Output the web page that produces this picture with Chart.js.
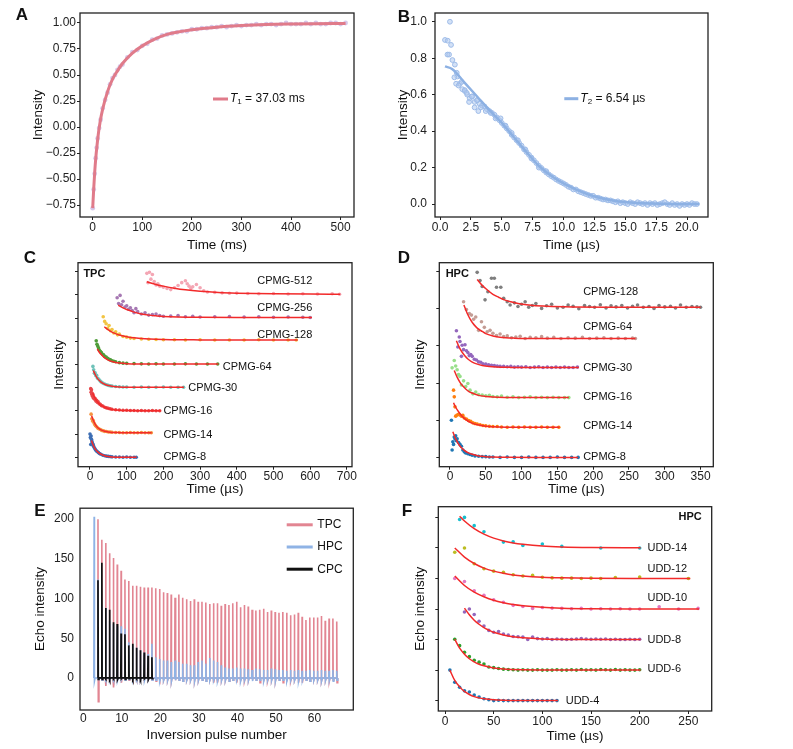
<!DOCTYPE html>
<html>
<head>
<meta charset="utf-8">
<script src="https://cdn.jsdelivr.net/npm/chart.js@4.4.1/dist/chart.umd.min.js"></script>
<style>
  body { margin: 0; background: #fff; }
  #fig { position: relative; width: 793px; height: 749px; overflow: hidden; font-family: "Liberation Sans", Arial, sans-serif; }
  #fig canvas { position: absolute; }
  .tag { position: absolute; font-weight: bold; font-size: 17px; color: #111; transform: translate(-50%, -50%); }
</style>
</head>
<body>
<div id="fig">
  <canvas id="chartA"></canvas>
  <canvas id="chartB"></canvas>
  <canvas id="chartC"></canvas>
  <canvas id="chartD"></canvas>
  <canvas id="chartE"></canvas>
  <canvas id="chartF"></canvas>
  <div class="tag" style="left:22px;top:15px">A</div>
  <div class="tag" style="left:404px;top:17px">B</div>
  <div class="tag" style="left:30px;top:258px">C</div>
  <div class="tag" style="left:404px;top:258px">D</div>
  <div class="tag" style="left:40px;top:511px">E</div>
  <div class="tag" style="left:407px;top:511px">F</div>
</div>
<script>
// ---- A: T1 inversion recovery ----
const aTime = [0,2,4,6,8,10,13,16,20,25,30,35,40,45,50,55,60,70,80,90,
  100,110,120,130,140,150,160,170,180,190,200,210,220,230,240,250,260,270,280,290,
  300,310,320,330,340,350,360,370,380,390,400,410,420,430,440,450,460,470,480,490,500,510];
const aSignal = [-0.78,-0.6,-0.45,-0.3,-0.2,-0.11,-0.01,0.07,0.18,0.26,0.33,0.41,0.47,0.5,0.55,0.58,0.6,0.67,0.72,0.74,
  0.78,0.80,0.84,0.85,0.88,0.89,0.90,0.91,0.92,0.92,0.94,0.94,0.95,0.95,0.96,0.96,0.97,0.96,0.97,0.98,
  0.97,0.98,0.98,0.99,0.98,0.99,0.99,0.98,0.99,1.0,0.99,0.99,0.99,1.0,0.99,1.0,0.99,0.99,1.0,1.0,0.99,1.0];
const aFitTime = [0,2,5,10,15,20,30,40,50,60,80,100,125,150,200,250,300,350,400,450,510];
const aFit = [-0.78,-0.6,-0.37,-0.12,0.05,0.17,0.34,0.46,0.54,0.61,0.71,0.78,0.845,0.89,0.935,0.96,0.975,0.985,0.99,0.993,0.995];
const aXTicks = [0,100,200,300,400,500];
const aYTicks = [-0.75,-0.5,-0.25,0,0.25,0.5,0.75,1.0];

// ---- B: T2 decay (sampled every 0.2 us from 0.4 us) ----
const bStart = 0.4, bStep = 0.2;
const bSignal = [0.90,0.82,1.00,0.79,0.765,0.70,0.66,0.63,0.62,0.60,
  0.58,0.59,0.56,0.57,0.55,0.54,0.535,0.52,0.51,0.50,
  0.49,0.475,0.46,0.445,0.43,0.415,0.40,0.38,0.365,0.35,
  0.335,0.32,0.30,0.285,0.27,0.255,0.24,0.225,0.21,0.198,
  0.185,0.173,0.163,0.153,0.145,0.135,0.127,0.12,0.113,0.105,
  0.095,0.09,0.08,0.08,0.07,0.065,0.06,0.055,0.05,0.045,
  0.045,0.035,0.035,0.03,0.025,0.025,0.02,0.02,0.015,0.01,
  0.015,0.005,0.01,0.005,0.0,0.01,0.005,0.0,0.01,0.005,
  0.0,0.005,-0.005,0.005,0.0,0.005,-0.005,0.0,0.005,0.01,
  0.0,-0.005,0.005,-0.005,0.0,-0.01,0.0,-0.005,0.0,-0.005,
  0.005,0.0,0.0];
const bExtraTime = [0.62,0.73,0.89,1.16,1.35,1.3,1.5,1.75,2.0,2.16,2.35,2.57,2.8,3.0,3.1,3.3,3.7,4.1,4.5,4.9,5.3,5.8,6.3,6.9,7.4,8.0,8.6];
const bExtra = [0.896,0.82,0.873,0.695,0.72,0.66,0.65,0.67,0.625,0.61,0.56,0.59,0.53,0.57,0.51,0.53,0.51,0.5,0.47,0.47,0.43,0.39,0.35,0.3,0.25,0.2,0.18];
const bFitTime = [0.4,1,2,3,4,5,6,7,8,9,10,11,12,13,14,15,16,18,21];
const bFit = [0.755,0.74,0.665,0.59,0.515,0.445,0.365,0.285,0.21,0.155,0.113,0.08,0.053,0.033,0.02,0.011,0.006,0.002,0];
const bXTicks = [0,2.5,5,7.5,10,12.5,15,17.5,20];
const bYTicks = [0,0.2,0.4,0.6,0.8,1.0];

// ---- C: TPC CPMG decays (values above each trace's baseline) ----
const cNames = ['CPMG-8','CPMG-14','CPMG-16','CPMG-30','CPMG-64','CPMG-128','CPMG-256','CPMG-512'];
const cColors = ['#3d6eb4','#f5923e','#e8464a','#6fc2b9','#4f9d3a','#f2c443','#a678b3','#f4a6b4'];
const cOffsets = [0,1.06,2.01,3.02,4.02,5.06,6.03,7.03];
const cPointX = [
  [0,1,2,3,4,5,6,7,8,9,10,12,14,16,18,20,23,26,30,35,40,45,50,55,60,70,80,90,100,110,120,126],
  [3,5,7,9,11,13,15,18,21,24,28,32,36,40,45,50,55,60,70,80,90,100,110,120,130,140,150,160,167],
  [2,3,4,5,6,7,8,9,10,12,14,16,18,20,22,25,28,31,35,40,45,50,55,60,70,80,90,100,110,120,130,140,150,160,170,180,190],
  [8,10,12,14,16,18,20,22,25,28,31,35,40,45,50,55,60,70,80,90,100,120,140,160,180,200,220,240,255],
  [17,19,21,23,25,28,31,34,37,40,44,48,52,56,60,65,70,80,90,100,120,140,160,180,200,230,260,290,320,348],
  [36,40,44,48,52,56,60,65,70,75,80,90,100,110,120,140,160,180,200,230,260,300,340,380,420,460,500,540,562],
  [74,78,82,86,90,95,100,105,110,115,120,125,130,140,150,160,170,180,190,200,220,240,260,280,300,340,380,420,460,500,540,580,600],
  [155,158,162,166,170,175,180,185,190,200,210,220,230,240,250,260,265,270,275,280,290,300,310,320,340,360,380,400,430,460,500,540,580,620,660,680]
];
const cPointY = [
  [1.0,0.85,0.55,0.92,0.78,0.7,0.64,0.58,0.56,0.5,0.47,0.4,0.36,0.3,0.27,0.24,0.2,0.16,0.13,0.09,0.07,0.05,0.04,0.03,0.02,0.01,0.01,0.0,0.01,0.0,0.0,0.0],
  [0.8,0.6,0.5,0.52,0.42,0.35,0.3,0.26,0.2,0.17,0.14,0.1,0.08,0.06,0.05,0.03,0.03,0.02,0.01,0.01,0.0,0.0,0.01,0.0,0.0,0.01,0.0,0.0,0.0],
  [0.95,0.8,0.9,0.7,0.75,0.62,0.7,0.55,0.6,0.5,0.52,0.42,0.45,0.36,0.38,0.3,0.27,0.22,0.2,0.15,0.12,0.1,0.08,0.06,0.04,0.03,0.02,0.02,0.01,0.01,0.0,0.01,0.0,0.0,0.01,0.0,0.0],
  [0.9,0.75,0.6,0.62,0.5,0.52,0.4,0.38,0.32,0.27,0.22,0.18,0.14,0.11,0.08,0.06,0.05,0.03,0.02,0.01,0.01,0.0,0.01,0.0,0.0,0.01,0.0,0.0,0.0],
  [1.0,0.85,0.78,0.7,0.62,0.55,0.5,0.42,0.4,0.33,0.3,0.25,0.2,0.18,0.14,0.12,0.1,0.06,0.04,0.03,0.02,0.01,0.0,0.01,0.0,0.0,0.01,0.0,0.0,0.0],
  [1.0,0.8,0.7,0.5,0.62,0.4,0.45,0.3,0.35,0.22,0.25,0.15,0.12,0.08,0.06,0.04,0.03,0.02,0.01,0.01,0.0,0.01,0.0,0.0,0.0,0.01,0.0,0.0,0.0],
  [0.85,0.6,0.95,0.55,0.7,0.45,0.5,0.35,0.42,0.3,0.2,0.38,0.25,0.15,0.2,0.1,0.12,0.15,0.08,0.05,0.06,0.08,0.03,0.05,0.02,0.03,0.04,0.02,0.03,0.01,0.02,0.01,0.0],
  [0.9,0.5,0.95,0.65,0.85,0.55,0.4,0.45,0.35,0.3,0.25,0.2,0.28,0.38,0.5,0.58,0.45,0.35,0.25,0.32,0.42,0.28,0.15,0.1,0.08,0.06,0.04,0.05,0.03,0.02,0.03,0.01,0.02,0.01,0.02,0.0]
];
const cFitX = [
  [4,8,12,16,20,25,30,40,50,60,80,100,127],
  [4.5,8,12,16,20,25,30,40,50,60,80,110,168],
  [7,12,16,20,25,30,40,50,60,80,100,140,193],
  [9,14,18,22,27,32,40,50,60,80,100,150,256],
  [20,25,30,35,40,50,60,70,80,100,130,200,350],
  [39,50,60,70,80,100,120,150,180,220,300,400,566],
  [77,90,100,120,140,160,180,200,240,300,400,605],
  [155,180,200,230,260,300,350,400,450,500,600,682]
];
const cFitY = [
  [0.72,0.55,0.42,0.32,0.25,0.18,0.13,0.066,0.033,0.017,0.005,0.001,0],
  [0.73,0.57,0.43,0.32,0.24,0.17,0.12,0.06,0.03,0.014,0.004,0.001,0],
  [0.75,0.59,0.48,0.39,0.31,0.24,0.15,0.09,0.055,0.02,0.008,0.001,0],
  [0.72,0.55,0.44,0.35,0.27,0.2,0.13,0.075,0.045,0.015,0.005,0.001,0],
  [0.65,0.52,0.42,0.34,0.27,0.17,0.11,0.07,0.045,0.018,0.005,0.001,0],
  [0.57,0.43,0.34,0.27,0.21,0.14,0.09,0.05,0.027,0.01,0.002,0,0],
  [0.53,0.41,0.34,0.23,0.15,0.1,0.07,0.045,0.02,0.006,0.001,0],
  [0.54,0.42,0.35,0.26,0.19,0.127,0.077,0.047,0.028,0.017,0.006,0.002]
];
const cLabelX = [200,200,200,268,362,456,456,456];
const cLabelY = [0,0.96,1.98,3.0,3.91,5.27,6.42,7.61];
const cXTicks = [0,100,200,300,400,500,600,700];
const cYTicks = [0,1,2,3,4,5,6,7,8];

// ---- D: HPC CPMG decays ----
const dNames = ['CPMG-8','CPMG-14','CPMG-16','CPMG-30','CPMG-64','CPMG-128'];
const dColors = ['#1f77b4','#ff7f0e','#98df8a','#9467bd','#c49c94','#7f7f7f'];
const dOffsets = [0,0.81,1.61,2.42,3.2,4.04];
const dPointX = [
  [2,3,4,5,6,7,8,9,10,12,14,16,18,20,22,25,28,31,35,40,45,50,55,60,70,80,90,100,110,120,130,140,150,160,170,179],
  [5,6,7,8,10,12,14,16,18,20,23,26,29,32,35,38,42,46,50,55,60,66,72,80,88,96,104,112,120,128,136,144,152],
  [3,6,8,10,12,14,16,19,22,25,28,32,36,40,45,50,55,60,66,72,80,88,96,104,112,120,128,136,144,152,160,166],
  [9,11,13,14,16,17,19,21,23,25,27,29,31,34,37,40,43,46,50,54,58,62,66,70,75,80,85,90,95,100,106,112,118,124,130,136,142,148,154,160,166,172,178],
  [19,23,27,30,33,36,40,44,48,52,56,60,65,70,75,80,86,92,98,105,112,120,128,136,145,155,165,175,185,195,205,215,225,235,245,255,259],
  [38,42,45,49,53,58,62,65,71,75,80,84,90,95,100,105,110,115,120,128,135,142,150,158,165,172,180,188,195,202,210,218,225,232,240,248,255,262,270,278,285,292,300,308,315,322,330,338,345,350]
];
const dPointY = [
  [1.0,0.2,0.42,0.35,0.55,0.5,0.58,0.45,0.5,0.4,0.35,0.3,0.2,0.15,0.12,0.1,0.08,0.06,0.04,0.03,0.02,0.02,0.01,0.01,0.0,0.01,0.0,0.0,0.01,0.0,0.0,0.0,0.01,0.0,0.0,0.0],
  [1.0,0.82,0.55,0.3,0.33,0.35,0.33,0.3,0.32,0.25,0.22,0.18,0.16,0.12,0.1,0.09,0.07,0.05,0.04,0.03,0.02,0.02,0.01,0.0,0.01,0.0,0.01,0.0,0.0,0.01,0.0,0.0,0.0],
  [0.8,1.0,0.85,0.75,0.62,0.57,0.34,0.45,0.3,0.38,0.2,0.1,0.15,0.08,0.07,0.05,0.06,0.03,0.02,0.04,0.01,0.02,0.0,0.01,0.02,0.0,0.01,0.0,0.01,0.0,0.0,0.0],
  [0.99,0.55,0.82,0.7,0.3,0.6,0.48,0.61,0.45,0.4,0.32,0.35,0.3,0.22,0.2,0.15,0.14,0.1,0.09,0.07,0.06,0.05,0.04,0.03,0.03,0.02,0.03,0.01,0.02,0.01,0.02,0.0,0.01,0.02,0.0,0.01,0.0,0.01,0.0,0.01,0.0,0.0,0.01],
  [0.99,0.78,0.67,0.63,0.52,0.58,0.22,0.45,0.3,0.18,0.22,0.14,0.08,0.12,0.05,0.07,0.02,0.04,0.06,0.0,0.03,0.02,0.05,0.01,0.03,0.0,0.02,0.01,0.03,0.0,0.01,0.02,0.0,0.01,0.0,0.01,0.0],
  [0.94,0.72,0.56,0.2,0.42,0.78,0.78,0.54,0.54,0.24,0.15,0.06,0.12,0.02,0.08,0.15,0.0,0.05,0.1,-0.03,0.04,0.08,-0.02,0.0,0.06,0.03,-0.04,0.05,0.02,0.0,0.07,-0.02,0.04,0.01,0.05,-0.02,0.03,0.06,0.0,0.02,-0.03,0.05,0.01,0.03,-0.02,0.06,0.0,0.02,0.01,0.0]
];
const dFitX = [
  [4,8,12,16,20,25,30,40,50,60,80,120,179],
  [5,8,12,16,20,25,30,40,50,60,80,110,153],
  [6,10,14,18,22,26,30,40,50,60,80,110,166],
  [9,13,17,21,25,30,35,45,55,65,85,120,180],
  [19.5,24,28,32,36,40,45,50,60,70,90,130,259],
  [38,45,52,60,68,76,85,95,110,130,160,220,350]
];
const dFitY = [
  [0.69,0.5,0.36,0.26,0.19,0.13,0.09,0.04,0.02,0.01,0.002,0,0],
  [0.66,0.54,0.42,0.32,0.24,0.17,0.12,0.06,0.03,0.015,0.004,0,0],
  [0.73,0.55,0.41,0.31,0.23,0.17,0.13,0.06,0.03,0.013,0.003,0,0],
  [0.72,0.54,0.41,0.31,0.23,0.16,0.11,0.055,0.026,0.012,0.003,0,0],
  [0.9,0.68,0.53,0.41,0.32,0.25,0.19,0.13,0.07,0.035,0.01,0,0],
  [0.75,0.59,0.47,0.35,0.27,0.2,0.15,0.105,0.064,0.032,0.012,0.002,0]
];
const dLabelX = [186,186,186,186,186,186];
const dLabelY = [0,0.85,1.62,2.42,3.52,4.44];
const dXTicks = [0,50,100,150,200,250,300,350];
const dYTicks = [0,1,2,3,4,5];

// ---- E: echo trains vs inversion pulse number ----
const tpcFirst = 4, tpcLast = 66;
const tpcPeak = [200,174,170,157,151,143,135,124,122,116, 116,115,114,114,114,113,112,108,107,105,
  101,105,101,99,97,99,96,96,95,93, 94,94,91,93,92,94,96,89,92,90,
  86,85,86,87,83,85,83,82,83,82, 79,80,82,77,73,76,76,76,78,72, 75,75,71];
const tpcDip = [-30,-3,-10,-2,-12,-2,-6,-2,-3,-2, -2,-3,-2,-2,-3,-4,-2,-3,-3,-4,
  -3,-3,-4,-3,-3,-4,-3,-3,-4,-3, -6,-6,-3,-3,-4,-3,-6,-3,-4,-3,
  -3,-3,-6,-3,-4,-3,-4,-3,-6,-3, -4,-3,-6,-6,-3,-4,-3,-3,-4,-3, -4,-3,-6];
const hpcFirst = 3, hpcLast = 66;
const hpcPeak = [203,124,90,88,72,68,65,65,62,45, 41,38,35,32,30,43,26,24,22,22,
  20,22,20,18,18,16,16,20,22,18, 25,22,20,16,13,12,12,13,12,12,
  11,10,12,11,10,10,12,11,10,10, 9,10,9,10,9,9,10,9,9,10, 9,9,10,9];
const hpcDip = [-4,-2,-3,-2,-3,-2,-3,-2,-3,-2, -3,-2,-3,-3,-2,-3,-3,-4,-3,-3,
  -4,-3,-3,-4,-3,-3,-4,-3,-3,-4, -3,-3,-4,-3,-3,-4,-3,-3,-4,-3,
  -3,-4,-3,-3,-4,-3,-3,-4,-3,-3, -4,-3,-3,-4,-3,-3,-4,-3,-3,-4, -3,-3,-4,-3];
const cpcFirst = 4, cpcLast = 18;
const cpcPeak = [123,145,88,86,70,68,56,55,41,43,38,35,32,28,26];
const cpcDip = [-2,-2,-1,-2,-1,-2,-1,-2,-1,-2,-1,-2,-1,-2,-1];
const eNames = ['TPC','HPC','CPC'];
const eColors = ['#e28592','#8fb3e5','#111111'];
const eXTicks = [0,10,20,30,40,50,60];
const eYTicks = [0,50,100,150,200];

// ---- F: HPC UDD decays ----
const fNames = ['UDD-4','UDD-6','UDD-8','UDD-10','UDD-12','UDD-14'];
const fColors = ['#1f77b4','#2ca02c','#9467bd','#e377c2','#bcbd22','#17becf'];
const fOffsets = [0,1,2,3,4,5];
const fPointX = [
  [5,10,15,20,25,30,35,40,45,50,55,60,65,70,75,80,85,90,95,100,105,110,115],
  [10,15,20,25,30,35,40,45,50,55,60,65,70,75,80,85,90,95,100,105,110,115,120,125,130,135,140,145,150,155,160,165,170,175,180,185,190,195,200],
  [20,25,30,35,40,45,50,55,60,65,70,75,80,85,90,95,100,105,110,115,120,125,130,135,140,145,150,155,160,165,170,175,180,185,190,195,200],
  [10,20,30,40,50,60,70,80,90,100,110,120,130,140,150,160,170,180,190,200,220,240,260],
  [10,20,30,40,50,60,70,80,90,100,110,120,130,140,150,160,175,200,250],
  [15,20,30,40,60,70,80,100,120,160,200]
];
const fPointY = [
  [1.0,0.6,0.44,0.32,0.28,0.18,0.12,0.06,0.03,0.0,0.01,0.0,0.0,0.0,0.0,0.0,0.0,0.0,0.0,0.0,0.0,0.0,0.0],
  [1.01,0.8,0.58,0.44,0.32,0.26,0.2,0.1,0.08,0.05,0.03,0.02,0.01,0.0,0.01,0.0,0.0,0.01,0.0,0.0,0.0,0.01,0.0,0.0,0.01,0.0,0.02,0.0,0.01,0.0,0.02,0.01,0.0,0.02,0.0,0.01,0.0,0.0,0.01],
  [0.9,1.0,0.82,0.6,0.44,0.3,0.24,0.26,0.18,0.15,0.1,0.09,0.08,0.0,0.08,0.03,0.02,0.03,0.0,0.02,0.01,0.0,0.01,0.02,0.03,0.02,0.01,0.02,0.01,0.02,0.0,0.01,0.0,0.0,0.01,0.0,0.01],
  [1.0,0.9,0.6,0.45,0.3,0.22,0.12,0.08,0.02,0.05,0.03,0.02,0.01,0.02,0.0,0.01,0.0,0.01,0.0,0.0,0.07,0.0,0.02],
  [0.86,1.0,0.48,0.32,0.24,0.2,0.12,0.08,0.1,0.04,0.02,0.01,0.01,0.0,0.01,0.0,0.03,0.05,0.0],
  [0.93,1.0,0.73,0.53,0.19,0.2,0.08,0.13,0.05,0.0,0.0]
];
const fFitX = [
  [5,10,15,20,25,30,35,40,50,60,80,116],
  [10,15,20,25,30,35,40,50,60,80,120,201],
  [20,25,30,35,40,45,50,60,70,80,100,140,201],
  [10,20,30,40,50,60,70,80,100,120,150,200,261],
  [10,20,30,40,50,60,70,80,100,120,150,200,252],
  [15,20,30,40,50,60,70,80,100,120,150,201]
];
const fFitY = [
  [1.0,0.66,0.45,0.3,0.2,0.13,0.09,0.06,0.025,0.01,0.002,0],
  [1.01,0.72,0.52,0.37,0.27,0.19,0.14,0.07,0.035,0.01,0.001,0],
  [1.03,0.81,0.63,0.5,0.39,0.31,0.24,0.15,0.09,0.055,0.02,0.003,0],
  [1.08,0.77,0.55,0.4,0.285,0.205,0.145,0.105,0.054,0.028,0.01,0.002,0],
  [1.0,0.7,0.49,0.34,0.24,0.17,0.117,0.082,0.04,0.02,0.007,0.001,0],
  [1.04,0.88,0.63,0.45,0.32,0.23,0.165,0.12,0.06,0.03,0.01,0.002]
];
const fLabelX = [124,208,208,208,208,208];
const fLabelY = [0,1.02,2.0,3.35,4.32,5.0];
const fXTicks = [0,50,100,150,200,250];
const fYTicks = [0,1,2,3,4,5,6];

const fitRed = '#f22a2a';
const FONT = '"Liberation Sans", Arial, sans-serif';

Chart.defaults.font.family = FONT;
Chart.defaults.color = '#111';

// helpers
const pts = (xs, ys, off = 0) => xs.map((x, i) => ({ x, y: ys[i] + off }));
const range = (a, b) => Array.from({ length: b - a + 1 }, (_, i) => a + i);

// each echo: rise to the peak, fall to the dip, back to zero
function spikes(pulses, peaks, dips) {
  const out = [];
  pulses.forEach((n, i) => {
    const c = n - 0.2;
    out.push({ x: c - 0.08, y: 0 }, { x: c, y: peaks[i] }, { x: c + 0.08, y: dips[i] }, { x: c + 0.25, y: 0 });
  });
  return out;
}

const framePlugin = {
  id: 'frame',
  afterDraw(chart) {
    const { ctx, chartArea: a } = chart;
    ctx.save();
    ctx.strokeStyle = '#222';
    ctx.lineWidth = 1.3;
    ctx.strokeRect(a.left, a.top, a.right - a.left, a.bottom - a.top);
    ctx.restore();
  }
};

function notes(items) {
  return {
    id: 'notes',
    afterDatasetsDraw(chart) {
      const { ctx, scales: { x, y } } = chart;
      ctx.save();
      ctx.fillStyle = '#111';
      ctx.textBaseline = 'middle';
      items.forEach(it => {
        ctx.font = (it.bold ? 'bold ' : '') + '11px ' + FONT;
        ctx.textAlign = it.align || 'left';
        ctx.fillText(it.text, x.getPixelForValue(it.x), y.getPixelForValue(it.y));
      });
      ctx.restore();
    }
  };
}

function lineKey(k) {
  return {
    id: 'lineKey',
    afterDatasetsDraw(chart) {
      const { ctx, chartArea: a } = chart;
      ctx.save();
      ctx.textBaseline = 'middle';
      ctx.fillStyle = '#111';
      k.items.forEach((it, i) => {
        const x0 = a.left + k.dx, y0 = a.top + k.dy + i * (k.gap || 0);
        ctx.strokeStyle = it.color;
        ctx.lineWidth = 3;
        ctx.beginPath();
        ctx.moveTo(x0, y0);
        ctx.lineTo(x0 + k.len, y0);
        ctx.stroke();
        let tx = x0 + k.len + k.pad;
        it.parts.forEach(p => {
          ctx.font = (p.italic ? 'italic ' : '') + (p.sub ? 8 : 12) + 'px ' + FONT;
          ctx.fillText(p.t, tx, y0 + (p.sub ? 3 : 0));
          tx += ctx.measureText(p.t).width;
        });
      });
      ctx.restore();
    }
  };
}

function axis(min, max, vals, fmt, title, o = {}) {
  return {
    type: 'linear', min, max,
    afterBuildTicks: s => { s.ticks = vals.map(v => ({ value: v })); },
    ticks: { callback: v => (fmt ? fmt(v) : ''), color: '#222', font: { size: 12 }, padding: o.pad ?? 0 },
    grid: { drawOnChartArea: false, drawTicks: o.ticks !== false, tickLength: 3, color: '#222' },
    border: { display: false },
    title: { display: true, text: title, color: '#111', font: { size: 13.5 }, padding: 0 }
  };
}

function makeChart(id, g, xs, ys, datasets, extra) {
  const half = 8.1;
  const padL = g.yt - half;
  xs.afterFit = s => { s.height = g.xt + half - g.b; };
  ys.afterFit = s => { s.width = g.l - padL; };
  const cv = document.getElementById(id);
  cv.width = g.w; cv.height = g.h;
  cv.style.left = g.left + 'px'; cv.style.top = g.top + 'px';
  return new Chart(cv, {
    type: 'scatter',
    data: { datasets },
    options: {
      responsive: false, animation: false, events: [],
      layout: { padding: { left: padL, top: g.t, right: g.w - g.r, bottom: g.h - (g.xt + half) } },
      scales: { x: xs, y: ys },
      plugins: { legend: { display: false }, tooltip: { enabled: false } }
    },
    plugins: [framePlugin].concat(extra || [])
  });
}

const fix = d => v => v.toFixed(d).replace('-', '\u2212');
const plain = v => String(v);

// A
makeChart('chartA', { left: 0, top: 0, w: 396, h: 256, l: 80, t: 13, r: 354, b: 217, yt: 38.3, xt: 245 },
  axis(-25.6, 527, aXTicks, plain, 'Time (ms)'),
  axis(-0.865, 1.096, aYTicks, fix(2), 'Intensity', { pad: 1 }),
  [
    { data: pts(aFitTime, aFit), showLine: true, borderColor: '#e07b8a', borderWidth: 3, pointRadius: 0, cubicInterpolationMode: 'monotone', order: 0 },
    { data: pts(aTime, aSignal), pointRadius: 2.4, pointBackgroundColor: 'rgba(200,180,225,0.75)', pointBorderWidth: 0, order: 1 }
  ],
  [lineKey({ dx: 133, dy: 86, len: 15, pad: 2, items: [{ color: '#e07b8a', parts: [{ t: 'T', italic: true }, { t: '1', sub: true }, { t: ' = 37.03 ms' }] }] })]
);

// B
const bTime = bSignal.map((_, i) => +(bStart + i * bStep).toFixed(1));
makeChart('chartB', { left: 390, top: 0, w: 403, h: 256, l: 45, t: 13, r: 318, b: 217, yt: 13.3, xt: 245 },
  axis(-0.41, 21.7, bXTicks, fix(1), 'Time (\u00b5s)'),
  axis(-0.071, 1.048, bYTicks, fix(1), 'Intensity', { pad: 5 }),
  [
    { data: pts(bFitTime, bFit), showLine: true, borderColor: '#8db1e3', borderWidth: 2.5, pointRadius: 0, cubicInterpolationMode: 'monotone', order: 0 },
    { data: pts(bTime, bSignal).concat(pts(bExtraTime, bExtra)), pointRadius: 2.4, pointBackgroundColor: 'rgba(175,200,238,0.55)', pointBorderColor: '#9dbbe8', pointBorderWidth: 1, order: 1 }
  ],
  [lineKey({ dx: 129.3, dy: 85.7, len: 14, pad: 2, items: [{ color: '#8db1e3', parts: [{ t: 'T', italic: true }, { t: '2', sub: true }, { t: ' = 6.54 \u00b5s' }] }] })]
);

// C
const cSets = [];
cNames.forEach((n, i) => {
  cSets.push({ data: pts(cPointX[i], cPointY[i], cOffsets[i]), pointRadius: 1.8, pointBackgroundColor: cColors[i], pointBorderWidth: 0, order: 1 });
  cSets.push({ data: pts(cFitX[i], cFitY[i], cOffsets[i]), showLine: true, borderColor: fitRed, borderWidth: 1.5, pointRadius: 0, cubicInterpolationMode: 'monotone', order: 0 });
});
makeChart('chartC', { left: 0, top: 250, w: 396, h: 250, l: 78, t: 12.7, r: 352, b: 216.7, yt: 59.3, xt: 239.3 },
  axis(-32.7, 714, cXTicks, plain, 'Time (\u00b5s)'),
  axis(-0.405, 8.39, cYTicks, null, 'Intensity'),
  cSets,
  [notes(cNames.map((n, i) => ({ text: n, x: cLabelX[i], y: cLabelY[i] })).concat([{ text: 'TPC', x: -18, y: 7.9, bold: true }]))]
);

// D
const dSets = [];
dNames.forEach((n, i) => {
  dSets.push({ data: pts(dPointX[i], dPointY[i], dOffsets[i]), pointRadius: 1.8, pointBackgroundColor: dColors[i], pointBorderWidth: 0, order: 1 });
  dSets.push({ data: pts(dFitX[i], dFitY[i], dOffsets[i]), showLine: true, borderColor: fitRed, borderWidth: 1.5, pointRadius: 0, cubicInterpolationMode: 'monotone', order: 0 });
});
makeChart('chartD', { left: 390, top: 250, w: 403, h: 250, l: 49.3, t: 12.7, r: 323.3, b: 216.7, yt: 30, xt: 239.3 },
  axis(-14.9, 367.8, dXTicks, plain, 'Time (\u00b5s)'),
  axis(-0.25, 5.24, dYTicks, null, 'Intensity'),
  dSets,
  [notes(dNames.map((n, i) => ({ text: n, x: dLabelX[i], y: dLabelY[i] })).concat([{ text: 'HPC', x: -6, y: 4.94, bold: true }]))]
);

// E
makeChart('chartE', { left: 0, top: 495, w: 396, h: 254, l: 80, t: 11.7, r: 353.3, b: 215, yt: 40, xt: 240 },
  axis(-0.87, 70.1, eXTicks, plain, 'Inversion pulse number', { ticks: false, pad: 1 }),
  axis(-40.4, 213.8, eYTicks, plain, 'Echo intensity', { ticks: false, pad: 6 }),
  [
    { data: spikes(range(tpcFirst, tpcLast), tpcPeak, tpcDip), showLine: true, borderColor: eColors[0], borderWidth: 1.6, pointRadius: 0, order: 2 },
    { data: spikes(range(hpcFirst, hpcLast), hpcPeak, hpcDip), showLine: true, borderColor: eColors[1], borderWidth: 1.6, pointRadius: 0, order: 1 },
    { data: spikes(range(cpcFirst, cpcLast), cpcPeak, cpcDip), showLine: true, borderColor: eColors[2], borderWidth: 1.7, pointRadius: 0, order: 0 }
  ],
  [lineKey({ dx: 206.7, dy: 16.6, gap: 22.2, len: 26, pad: 4.6, items: eNames.map((n, i) => ({ color: eColors[i], parts: [{ t: n }] })) })]
);

// F
const fSets = [];
fNames.forEach((n, i) => {
  fSets.push({ data: pts(fPointX[i], fPointY[i], fOffsets[i]), pointRadius: 1.8, pointBackgroundColor: fColors[i], pointBorderWidth: 0, order: 1 });
  fSets.push({ data: pts(fFitX[i], fFitY[i], fOffsets[i]), showLine: true, borderColor: fitRed, borderWidth: 1.5, pointRadius: 0, cubicInterpolationMode: 'monotone', order: 0 });
});
makeChart('chartF', { left: 390, top: 495, w: 403, h: 254, l: 48.3, t: 11.7, r: 321.7, b: 216, yt: 30, xt: 241.7 },
  axis(-6.9, 274, fXTicks, plain, 'Time (\u00b5s)'),
  axis(-0.34, 6.35, fYTicks, null, 'Echo intensity'),
  fSets,
  [notes(fNames.map((n, i) => ({ text: n, x: fLabelX[i], y: fLabelY[i] })).concat([{ text: 'HPC', x: 263.7, y: 6.02, bold: true, align: 'right' }]))]
);
</script>
</body>
</html>
